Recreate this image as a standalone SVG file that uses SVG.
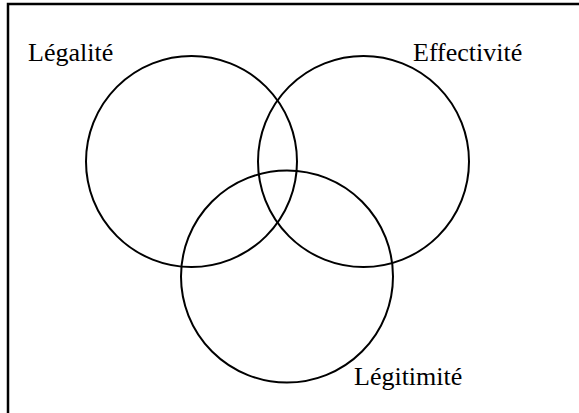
<svg xmlns="http://www.w3.org/2000/svg" width="579" height="413" viewBox="0 0 579 413">
<style>
.c{fill:none;stroke:#000;stroke-width:2}
</style>
<rect width="579" height="413" fill="#fff"/>
<path d="M8,413 V4 H579" fill="none" stroke="#000" stroke-width="2.5"/>
<g id="legalite"><circle class="c" cx="191.5" cy="161.5" r="105.5"/><text x="28" y="61" font-family="'Liberation Serif', serif" font-size="26">Légalité</text></g>
<g id="effectivite"><circle class="c" cx="363.5" cy="161.5" r="105.5"/><text x="413" y="61" font-family="'Liberation Serif', serif" font-size="26">Effectivité</text></g>
<g id="legitimite"><circle class="c" cx="287" cy="276.5" r="106"/><text x="354" y="385" font-family="'Liberation Serif', serif" font-size="26">Légitimité</text></g>
</svg>
